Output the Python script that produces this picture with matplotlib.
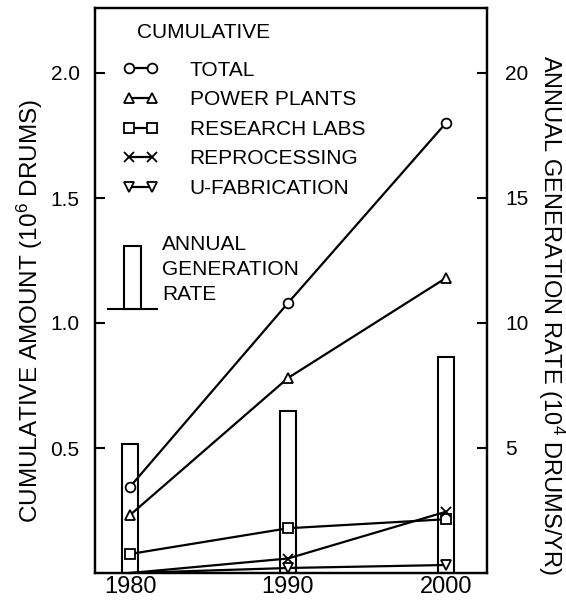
import matplotlib
matplotlib.use("Agg")
import matplotlib.pyplot as plt
from matplotlib.patches import Rectangle
from matplotlib.lines import Line2D

years = [1980, 1990, 2000]
total = [0.345, 1.08, 1.80]
power_plants = [0.232, 0.78, 1.18]
research_labs = [0.076, 0.179, 0.215]
reprocessing = [0.0, 0.058, 0.245]
u_fabrication = [0.0, 0.02, 0.032]
annual_rate = [5.15, 6.49, 8.65]

left_ticks = [0.5, 1.0, 1.5, 2.0]
left_labels = ["0.5", "1.0", "1.5", "2.0"]
right_ticks = [5, 10, 15, 20]
right_labels = ["5", "10", "15", "20"]
x_labels = ["1980", "1990", "2000"]

plt.rcParams['mathtext.fontset'] = 'custom'
plt.rcParams['mathtext.rm'] = 'Liberation Sans'
plt.rcParams['mathtext.it'] = 'Liberation Sans'
plt.rcParams['mathtext.bf'] = 'Liberation Sans'

TXT = ['Liberation Sans', 'DejaVu Sans']
NUM = ['Liberation Sans', 'DejaVu Sans']

fig = plt.figure(figsize=(5.66, 6.0), dpi=100)
ax = fig.add_axes([95/566, 1-573/600, 392/566, 565/600])
axr = ax.twinx()
ax.set_zorder(axr.get_zorder() + 1)
ax.patch.set_visible(False)

# bars on right axis
axr.bar(years, annual_rate, width=1.05, facecolor='white', edgecolor='black', linewidth=1.5)
axr.set_ylim(0, 22.6)

ax.set_xlim(1977.78, 2002.6)
ax.set_ylim(0, 2.26)

style = dict(color='black', linewidth=1.6, markersize=7, markerfacecolor='white',
             markeredgecolor='black', markeredgewidth=1.3, clip_on=False)
h1, = ax.plot(years, total, marker='o', label='TOTAL', **style)
h2, = ax.plot(years, power_plants, marker='^', label='POWER PLANTS', **style)
h3, = ax.plot(years, research_labs, marker='s', label='RESEARCH LABS', **style)
h4, = ax.plot(years, reprocessing, marker='x', markevery=[1, 2], label='REPROCESSING', **style)
h5, = ax.plot(years, u_fabrication, marker='v', markevery=[1, 2], label='U-FABRICATION', **style)

ax.set_xticks(years)
ax.set_xticklabels(x_labels, family=NUM, fontsize=17)
ax.tick_params(axis='x', length=0, pad=2)
ax.set_yticks(left_ticks)
ax.set_yticklabels(left_labels, family=NUM, fontsize=15)
ax.tick_params(axis='y', direction='in', length=7, width=1.5, pad=11)
axr.set_yticks(right_ticks)
axr.set_yticklabels(right_labels, family=NUM, fontsize=15)
axr.tick_params(axis='y', direction='in', length=7, width=1.5, pad=13)

for a in (ax, axr):
    for s in a.spines.values():
        s.set_linewidth(1.6)

ax.set_ylabel('CUMULATIVE AMOUNT (10$^{6}$ DRUMS)', family=TXT, fontsize=17.5, labelpad=4)
ax.yaxis.label.set_y(0.464)
axr.set_ylabel('ANNUAL GENERATION RATE (10$^{4}$ DRUMS/YR)', family=TXT, fontsize=17,
               rotation=270, labelpad=27)
axr.yaxis.label.set_y(0.457)

# legend
ax.text(0.107, 0.956, 'CUMULATIVE', transform=ax.transAxes, family=TXT, fontsize=15,
        ha='left', va='center')
leg = ax.legend(handles=[h1, h2, h3, h4, h5], loc='upper left', bbox_to_anchor=(0.0714, 0.907),
                frameon=False, numpoints=2, handlelength=1.67, handletextpad=1.53,
                labelspacing=0.51, borderpad=0, borderaxespad=0,
                prop={'family': TXT, 'size': 15})
for h in leg.legend_handles:
    h.set_markersize(7)

# annual rate legend icon
ax.add_patch(Rectangle((0.074, 0.467), 0.043, 0.1115, transform=ax.transAxes,
                       facecolor='white', edgecolor='black', linewidth=1.5))
ax.add_line(Line2D([0.033, 0.158], [0.467, 0.467], transform=ax.transAxes,
                   color='black', linewidth=1.5))
ax.text(0.171, 0.598, 'ANNUAL\nGENERATION\nRATE', transform=ax.transAxes, family=TXT,
        fontsize=15, ha='left', va='top', linespacing=1.4)

fig.savefig('out.png', dpi=100)
